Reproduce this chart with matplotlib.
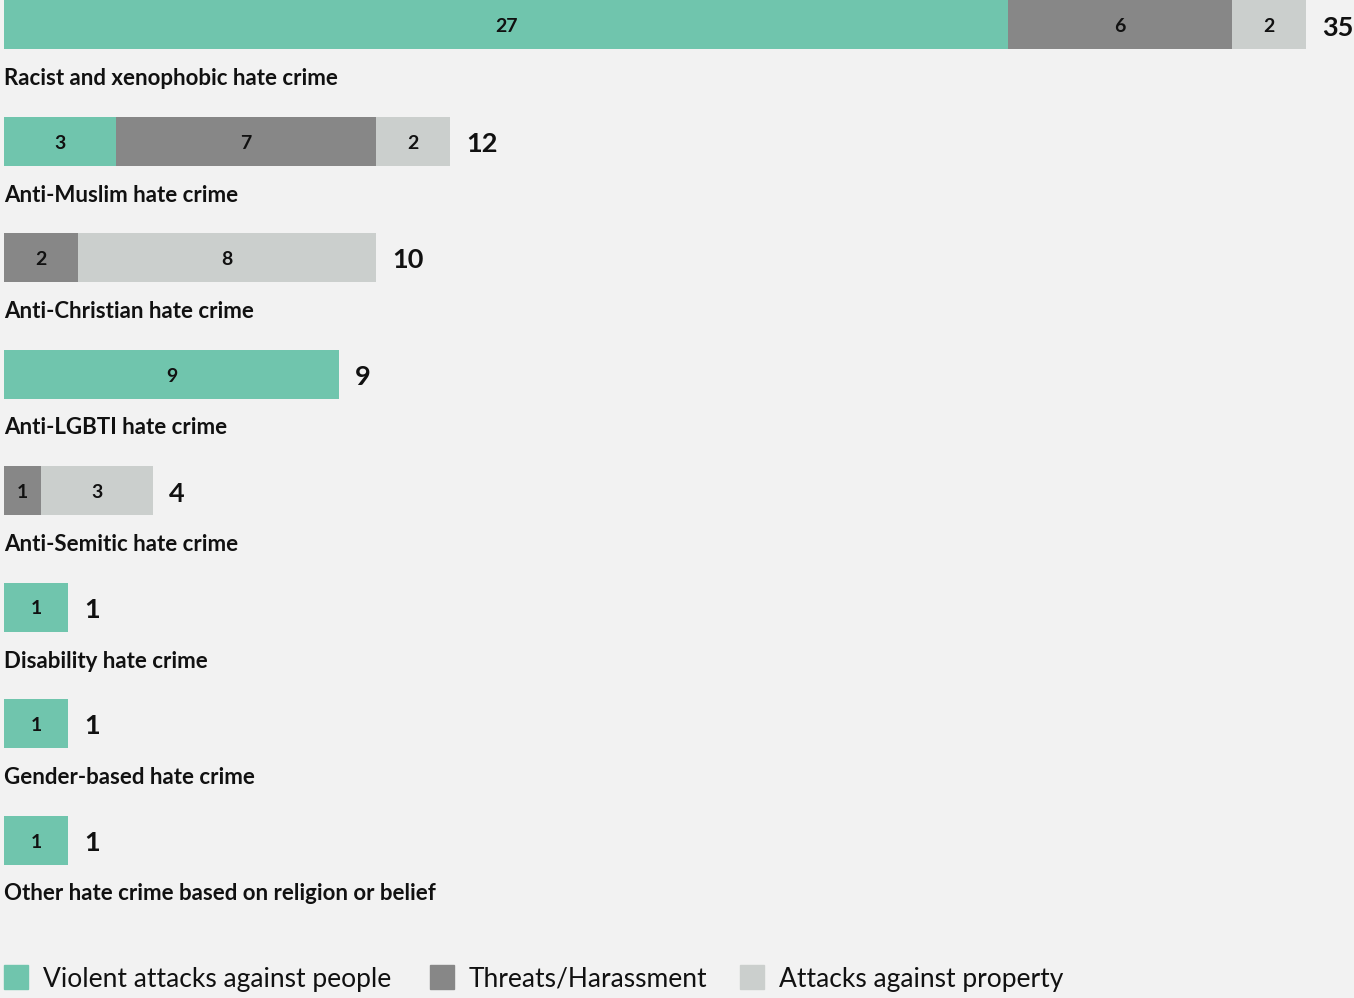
import matplotlib
matplotlib.use("Agg")
import matplotlib.pyplot as plt
from matplotlib.patches import Rectangle

# data
categories = [
    "Racist and xenophobic hate crime",
    "Anti-Muslim hate crime",
    "Anti-Christian hate crime",
    "Anti-LGBTI hate crime",
    "Anti-Semitic hate crime",
    "Disability hate crime",
    "Gender-based hate crime",
    "Other hate crime based on religion or belief",
]
violent = [27, 3, 0, 9, 0, 1, 1, 1]
threats = [6, 7, 2, 0, 1, 0, 0, 0]
property_ = [2, 2, 8, 0, 3, 0, 0, 0]
series_names = ["Violent attacks against people", "Threats/Harassment", "Attacks against property"]
colors = ["#70c5ad", "#878787", "#cbcfcd"]
bg = "#f2f2f2"

W, H = 1354, 998
fig = plt.figure(figsize=(W / 100, H / 100), dpi=100, facecolor=bg)
ax = fig.add_axes([0, 0, 1, 1])
ax.set_facecolor(bg)

px_per_unit = 37.2
x0 = 4
ax.set_xlim(-x0 / px_per_unit, (W - x0) / px_per_unit)
ax.set_ylim(H, 0)
ax.axis("off")

step = 116.5
bar_h = 49
min_total = 64 / px_per_unit  # short bars are drawn at least this wide
font = "Lato"

for i, cat in enumerate(categories):
    yc = 24.5 + i * step
    total = violent[i] + threats[i] + property_[i]
    k = max(1.0, min_total / total)
    left = 0
    for vals, c in zip([violent, threats, property_], colors):
        v = vals[i]
        if v == 0:
            continue
        ax.barh(yc, v * k, left=left, height=bar_h, color=c, edgecolor="none")
        ax.text(left + v * k / 2, yc + 2, str(v), ha="center", va="center",
                fontsize=14, fontweight="bold", color="#111111", family=font)
        left += v * k
    ax.text(left + 16 / px_per_unit, yc + 3, str(total), ha="left", va="center",
            fontsize=19.5, fontweight="bold", color="#111111", family=font)
    ax.text(0, yc + 54, cat, ha="left", va="center",
            fontsize=16, fontweight="bold", color="#111111", family=font)

# legend
leg_x = [4, 430, 740]
for lx, name, c in zip(leg_x, series_names, colors):
    fig.patches.append(Rectangle((lx / W, 1 - 989 / H), 24 / W, 24 / H,
                                 transform=fig.transFigure, color=c, zorder=3))
    fig.text((lx + 39) / W, 1 - 979 / H, name, ha="left", va="center",
             fontsize=19, color="#111111", family=font)

fig.savefig("out.png", dpi=100, facecolor=bg)
